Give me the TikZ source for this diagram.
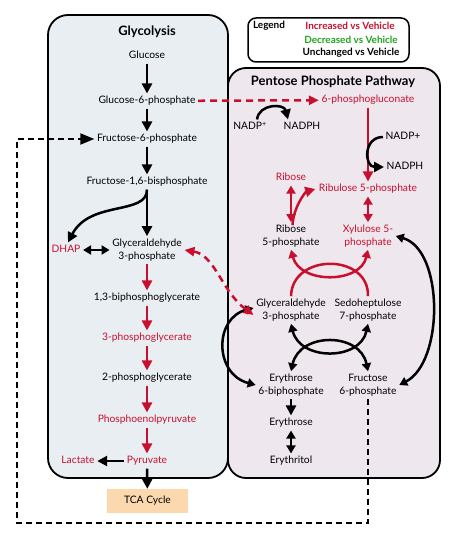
\documentclass[tikz,border=0pt]{standalone}
\usepackage{fontspec}
\setmainfont{Lato}
\usetikzlibrary{arrows.meta}
\definecolor{myred}{HTML}{C8102E}
\definecolor{mygreen}{HTML}{1FA51F}
\definecolor{glyfill}{HTML}{E9EEF2}
\definecolor{pppfill}{HTML}{EFE7EE}
\definecolor{tcafill}{HTML}{FCD8AE}
\begin{document}
\begin{tikzpicture}[x=1bp,y=-1bp,
 t/.style={font=\fontsize{10.3}{13}\selectfont, inner sep=2.5bp, text height=7.5bp, text depth=2.2bp},
 tt/.style={font=\fontsize{10.3}{13}\selectfont, inner sep=2.5bp, align=center},
 rd/.style={text=myred},
 ttl/.style={font=\bfseries\fontsize{13}{15}\selectfont, inner sep=1bp},
 leg/.style={font=\bfseries\fontsize{10}{12}\selectfont, inner sep=1bp},
 arr/.style={line width=2.5bp, -{Triangle[length=10bp,width=10bp]}},
 darr/.style={line width=2.5bp, {Triangle[length=8bp,width=9bp]}-{Triangle[length=8bp,width=9bp]}},
 redarr/.style={arr, draw=myred},
 reddarr/.style={darr, draw=myred},
 rdash/.style={line width=2.5bp, draw=myred, dash pattern=on 7bp off 5bp},
 bdash/.style={line width=1.8bp, dash pattern=on 6bp off 4bp, -{Triangle[length=14bp,width=11bp]}},
]
\useasboundingbox[fill=white] (0,0) rectangle (450,534);
% boxes
\draw[line width=1.8bp, fill=glyfill, rounded corners=20bp] (48,15) rectangle (228,478);
\draw[line width=1.8bp, fill=pppfill, rounded corners=18bp] (228,68) rectangle (440,478);
\node[draw, line width=1.5bp, rounded corners=8bp, fill=white, minimum width=161bp, minimum height=44bp, inner sep=0] (legend) at (328.5,40) {};
\node[leg] (legt) at (269,26) {Legend};
\node[leg, text=myred] (legi) at (350,26) {Increased vs Vehicle};
\node[leg, text=mygreen] (legd) at (351,40) {Decreased vs Vehicle};
\node[leg] (legu) at (351,53) {Unchanged vs Vehicle};
% titles
\node[ttl] (glyt) at (147,32) {Glycolysis};
\node[ttl] (pppt) at (333,82) {Pentose Phosphate Pathway};
% glycolysis nodes
\node[t] (glc) at (147,56) {Glucose};
\node[t] (g6p) at (147,101) {Glucose-6-phosphate};
\node[t] (f6p) at (147,139) {Fructose-6-phosphate};
\node[t] (f16bp) at (147,182) {Fructose-1,6-bisphosphate};
\node[tt] (gap) at (147,250) {Glyceraldehyde\\3-phosphate};
\node[t, rd] (dhap) at (66,250) {DHAP};
\node[t] (bpg) at (147,298) {1,3-biphosphoglycerate};
\node[t, rd] (pg3) at (147,338) {3-phosphoglycerate};
\node[t] (pg2) at (147,378) {2-phosphoglycerate};
\node[t, rd] (pep) at (147,420) {Phosphoenolpyruvate};
\node[t, rd] (pyr) at (147,461) {Pyruvate};
\node[t, rd] (lac) at (78,461) {Lactate};
\node[t, fill=tcafill, minimum width=81bp, minimum height=24bp] (tca) at (147.5,501) {TCA Cycle};
% PPP nodes
\node[t, rd] (pg6) at (368,100) {6-phosphogluconate};
\node[t] (nadp1) at (250,127) {NADP\textsuperscript{+}};
\node[t] (nadph1) at (302,127) {NADPH};
\node[t] (nadp2) at (403,137) {NADP+};
\node[t] (nadph2) at (405,167) {NADPH};
\node[t, rd] (ribose) at (291,178) {Ribose};
\node[t, rd] (ru5p) at (368,189) {Ribulose 5-phosphate};
\node[tt] (r5p) at (291,236) {Ribose\\5-phosphate};
\node[tt, rd] (xu5p) at (368,236) {Xylulose 5-\\phosphate};
\node[tt] (gap2) at (291,310) {Glyceraldehyde\\3-phosphate};
\node[tt] (s7p) at (368,310) {Sedoheptulose\\7-phosphate};
\node[tt] (e4p) at (291,385) {Erythrose\\6-biphosphate};
\node[tt] (f6p2) at (368,385) {Fructose\\6-phosphate};
\node[t] (ery) at (291,423) {Erythrose};
\node[t] (eryt) at (291,461) {Erythritol};
% glycolysis arrows
\draw[arr] (glc) -- (g6p);
\draw[arr] (g6p) -- (f6p);
\draw[arr] (f6p) -- (f16bp);
\draw[arr] (f16bp) -- (gap);
\draw[arr] (f16bp.south) .. controls +(0,26) and (90,200) .. ([xshift=2bp]dhap.north);
\draw[darr] (dhap) -- (gap);
\draw[redarr] (gap) -- (bpg);
\draw[redarr] (bpg) -- (pg3);
\draw[redarr] (pg3) -- (pg2);
\draw[redarr] (pg2) -- (pep);
\draw[redarr] (pep) -- (pyr);
\draw[arr] (pyr) -- (tca);
\draw[arr] (pyr) -- (lac);
% PPP arrows
\draw[rdash, -{Triangle[length=10bp,width=9bp]}] (g6p) -- (pg6);
\draw[arr] ([xshift=7bp]nadp1.north) .. controls +(2,-16) and +(-4,-16) .. ([xshift=-14bp]nadph1.north);
\draw[redarr] (pg6) -- (ru5p);
\draw[arr] (nadp2.west) .. controls +(-20,0) and +(-20,0) .. (nadph2.west);
\draw[reddarr] (ribose) -- (r5p);
\draw[redarr] ([xshift=1.5bp,yshift=-3bp]r5p.north) .. controls +(1,-18) and +(-10,3) .. ([xshift=-1bp]ru5p.west);
\draw[reddarr] (ru5p) -- (xu5p);
\draw[line width=2.5bp, myred] (gap2.north) .. controls (292,253) and (369,253) .. (s7p.north);
\draw[reddarr] (r5p.south) .. controls (300,284) and (360,284) .. (xu5p.south);
\draw[darr] (gap2.south) .. controls (300,361) and (360,361) .. (s7p.south);
\draw[darr] (e4p.north) .. controls (300,332) and (360,332) .. (f6p2.north);
\draw[darr] ([yshift=2bp]gap2.west) .. controls (214,318) and (214,374) .. (e4p.west);
\draw[darr] (xu5p.east) .. controls (444,250) and (444,362) .. (f6p2.east);
\draw[rdash, {Triangle[length=10bp,width=9bp]}-{Triangle[length=10bp,width=9bp]}] (gap.east) .. controls (215,255) and (222,292) .. ([yshift=-5bp]gap2.west);
\draw[arr] (e4p) -- (ery);
\draw[darr] (ery) -- (eryt);
% dashed return
\coordinate (dB) at (17,523);
\draw[bdash] (f6p2.south) |- (dB) |- (f6p.west);
\end{tikzpicture}
\end{document}
